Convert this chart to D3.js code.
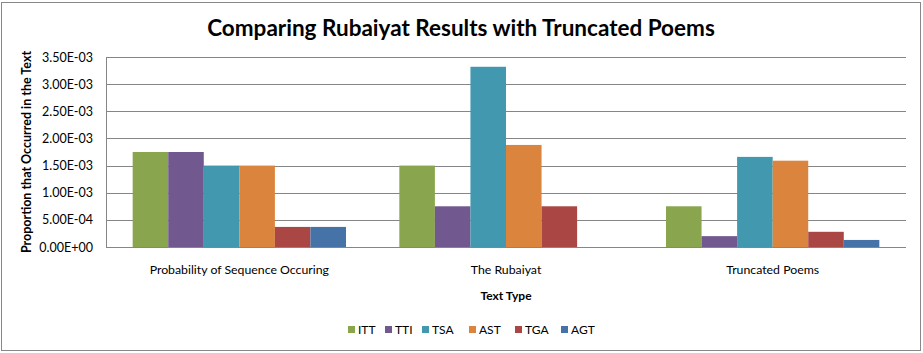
<!DOCTYPE html>
<html>
<head>
<meta charset="utf-8">
<script src="https://cdn.jsdelivr.net/npm/d3@7"></script>
<style>
	body { margin: 0; background: #fff; }
	svg text { font-family: Lato, "Open Sans", sans-serif; fill: #000; }
</style>
</head>
<body>
<svg id="chart" width="923" height="353"></svg>
<script>

const categories = ["Probability of Sequence Occuring", "The Rubaiyat", "Truncated Poems"];
const series = ["ITT", "TTI", "TSA", "AST", "TGA", "AGT"];
const colors = ["#89A54E", "#71588F", "#4198AF", "#DB843D", "#AA4643", "#4572A7"];

// one array per category, in series order
const probValues = [0.00175, 0.00175, 0.0015, 0.0015, 0.00037, 0.00037];
const rubaiyatValues = [0.0015, 0.00075, 0.00332, 0.00188, 0.00075, 0];
const truncatedValues = [0.00075, 0.0002, 0.00166, 0.00159, 0.00028, 0.00013];

const yTicks = [0, 0.0005, 0.001, 0.0015, 0.002, 0.0025, 0.003, 0.0035];

const valuesByCategory = [probValues, rubaiyatValues, truncatedValues];

const svg = d3.select("#chart");
const margin = {top: 57, left: 106, right: 17, bottom: 106};
const width = 923 - margin.left - margin.right;
const height = 353 - margin.top - margin.bottom;

// outer frame
svg.append("rect")
	.attr("x", 1.5).attr("y", 2.5)
	.attr("width", 919).attr("height", 348)
	.attr("fill", "none")
	.attr("stroke", "#888")
	.attr("stroke-width", 1);

const g = svg.append("g")
	.attr("transform", "translate(" + margin.left + "," + margin.top + ")");

const x0 = d3.scaleBand()
	.domain(categories)
	.range([0, width])
	.padding(0);

const gap = x0.bandwidth() * 0.1;
const x1 = d3.scaleBand()
	.domain(series)
	.range([gap, x0.bandwidth() - gap])
	.padding(0);

const y = d3.scaleLinear()
	.domain([0, 0.0035])
	.range([height, 0]);

// gridlines
g.append("g")
	.selectAll("line")
	.data(yTicks)
	.enter()
	.append("line")
		.attr("x1", 0)
		.attr("x2", width)
		.attr("y1", d => Math.round(y(d)) + 0.5)
		.attr("y2", d => Math.round(y(d)) + 0.5)
		.attr("stroke", "#868686");

// y axis labels
const fmt = d => {
	const s = d3.format(".2e")(d).toUpperCase();
	return s.replace(/E([+-])(\d)$/, "E$10$2");
};
const yAxis = d3.axisLeft(y)
	.tickValues(yTicks)
	.tickFormat(fmt)
	.tickSize(0)
	.tickPadding(13);
const yg = g.append("g").call(yAxis);
yg.select(".domain").remove();
yg.selectAll("text")
	.style("font-size", "12.5px")
	.attr("fill", "#000");

// bars
const groups = g.selectAll(".group")
	.data(categories)
	.enter()
	.append("g")
		.attr("class", "group")
		.attr("transform", d => "translate(" + x0(d) + ",0)");

groups.selectAll("rect")
	.data((d, i) => valuesByCategory[i].map((v, j) => ({key: series[j], value: v, color: colors[j]})))
	.enter()
	.append("rect")
		.attr("x", d => x1(d.key))
		.attr("width", x1.bandwidth())
		.attr("y", d => y(d.value))
		.attr("height", d => height - y(d.value))
		.attr("fill", d => d.color);

// axis lines
g.append("line")
	.attr("x1", 0.5).attr("x2", 0.5)
	.attr("y1", 0).attr("y2", height)
	.attr("stroke", "#868686");
g.append("line")
	.attr("x1", 0).attr("x2", width)
	.attr("y1", height + 0.5).attr("y2", height + 0.5)
	.attr("stroke", "#868686");

// category labels
const xAxis = d3.axisBottom(x0).tickSize(0).tickPadding(18);
const xg = g.append("g")
	.attr("transform", "translate(0," + height + ")")
	.call(xAxis);
xg.select(".domain").remove();
xg.selectAll("text")
	.style("font-size", "12.3px")
	.attr("fill", "#000");

// title
svg.append("text")
	.attr("x", 461)
	.attr("y", 36)
	.attr("text-anchor", "middle")
	.style("font-size", "22.5px")
	.style("font-weight", "bold")
	.text("Comparing Rubaiyat Results with Truncated Poems");

// axis titles
svg.append("text")
	.attr("x", margin.left + width / 2)
	.attr("y", 300)
	.attr("text-anchor", "middle")
	.style("font-size", "12px")
	.style("font-weight", "bold")
	.text("Text Type");

svg.append("text")
	.attr("transform", "translate(31," + (margin.top + height / 2) + ") rotate(-90)")
	.attr("text-anchor", "middle")
	.style("font-size", "12.5px")
	.style("font-weight", "bold")
	.text("Proportion that Occurred in the Text");

// legend
const legendX = [348, 385, 422, 469, 515, 561];
const legend = svg.append("g").attr("class", "legend");
const items = legend.selectAll("g")
	.data(series)
	.enter()
	.append("g")
		.attr("transform", (d, i) => "translate(" + legendX[i] + ",326)");
items.append("rect")
	.attr("width", 7).attr("height", 7)
	.attr("fill", (d, i) => colors[i]);
items.append("text")
	.attr("x", 10)
	.attr("y", 8)
	.style("font-size", "12px")
	.text(d => d);

</script>
</body>
</html>
